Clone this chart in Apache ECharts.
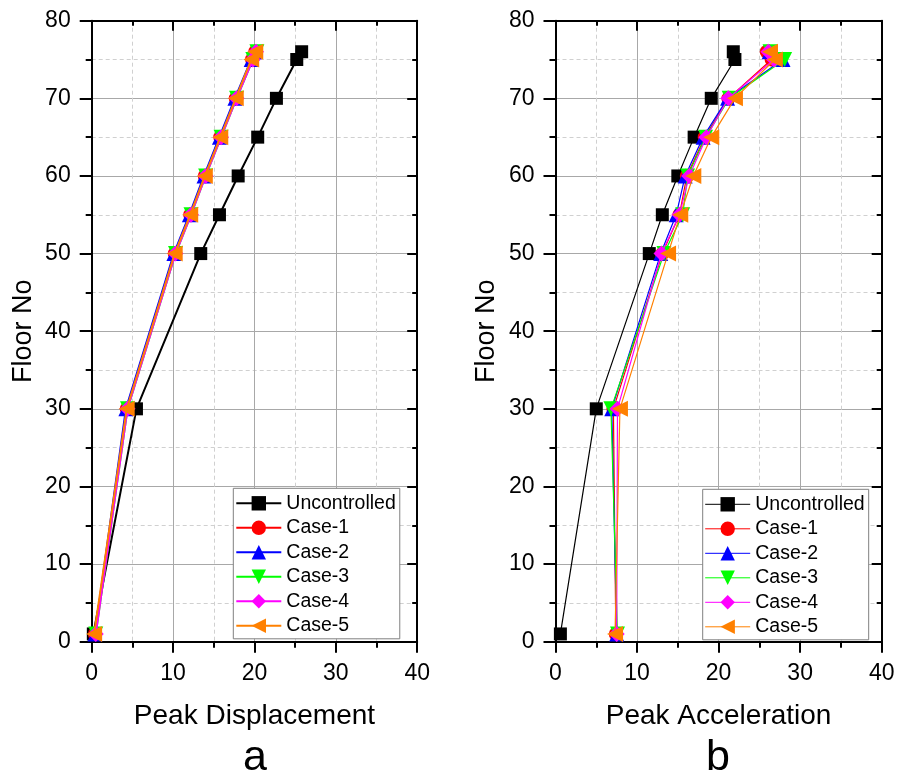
<!DOCTYPE html>
<html>
<head>
<meta charset="utf-8">
<script src="https://cdn.jsdelivr.net/npm/echarts@6/dist/echarts.min.js"></script>
<style>
  html, body { margin: 0; padding: 0; background: #fff; }
  #chart { width: 898px; height: 776px; }
</style>
</head>
<body>
<div id="chart"></div>
<script>
// floors where the response was measured
const floors = [1, 30, 50, 55, 60, 65, 70, 75, 76]
const seriesNames = ['Uncontrolled', 'Case-1', 'Case-2', 'Case-3', 'Case-4', 'Case-5']

// peak displacement (panel a)
const dispUncontrolled = [0.2, 5.5, 13.4, 15.7, 18.0, 20.4, 22.7, 25.2, 25.8]
const dispCase1 = [0.4, 4.3, 10.2, 12.1, 13.9, 15.8, 17.7, 19.7, 20.1]
const dispCase2 = [0.4, 4.2, 10.1, 12.0, 13.8, 15.7, 17.6, 19.6, 20.0]
const dispCase3 = [0.5, 4.4, 10.3, 12.2, 14.0, 15.9, 17.8, 19.8, 20.3]
const dispCase4 = [0.5, 4.4, 10.3, 12.2, 14.0, 15.9, 17.8, 19.8, 20.2]
const dispCase5 = [0.3, 4.3, 10.2, 12.1, 13.9, 15.8, 17.7, 19.6, 20.1]

// peak acceleration (panel b)
const accUncontrolled = [0.6, 5.0, 11.5, 13.1, 15.0, 17.0, 19.1, 22.0, 21.8]
const accCase1 = [7.4, 7.1, 13.1, 15.2, 16.1, 18.3, 21.2, 26.5, 25.9]
const accCase2 = [7.5, 6.9, 12.9, 14.8, 15.9, 18.1, 21.1, 27.9, 26.2]
const accCase3 = [7.6, 6.8, 13.3, 15.6, 16.2, 18.4, 21.3, 28.1, 26.3]
const accCase4 = [7.5, 7.6, 13.0, 15.2, 16.4, 18.5, 21.2, 26.8, 26.1]
const accCase5 = [7.3, 7.9, 13.8, 15.3, 16.9, 19.1, 22.0, 26.9, 26.3]

const xTicks = [0, 10, 20, 30, 40]
const yTicks = [0, 10, 20, 30, 40, 50, 60, 70, 80]

const FONT = 'Liberation Sans, Arial, sans-serif'

// 样式：颜色 / 符号
const styles = [
  { color: '#000000', symbol: 'rect', rotate: 0, size: 13 },
  { color: '#ff0000', symbol: 'circle', rotate: 0, size: 14 },
  { color: '#0000ff', symbol: 'triangle', rotate: 0, size: 15 },
  { color: '#00ff00', symbol: 'triangle', rotate: 180, size: 15 },
  { color: '#ff00ff', symbol: 'diamond', rotate: 0, size: 16 },
  { color: '#ff8000', symbol: 'triangle', rotate: 90, size: 16 }
]

const grids = [
  { left: 91.7, top: 20.7, width: 325.5, height: 621 },
  { left: 555.5, top: 20.7, width: 326.2, height: 621 }
]

const panels = [
  { xName: 'Peak Displacement', values: [dispUncontrolled, dispCase1, dispCase2, dispCase3, dispCase4, dispCase5], lineWidth: 2 },
  { xName: 'Peak Acceleration', values: [accUncontrolled, accCase1, accCase2, accCase3, accCase4, accCase5], lineWidth: 1.2 }
]

const axisLine = { show: true, onZero: false, lineStyle: { color: '#000', width: 2 } }

const xAxes = []
const yAxes = []
const series = []

panels.forEach((p, gi) => {
  // 底部 x 轴
  xAxes.push({
    type: 'value', gridIndex: gi, position: 'bottom',
    min: xTicks[0], max: xTicks[xTicks.length - 1], interval: 10,
    name: p.xName, nameLocation: 'middle', nameGap: 61,
    nameTextStyle: { fontFamily: FONT, fontSize: 28, color: '#000' },
    axisLine,
    axisTick: { show: true, inside: false, length: 11, lineStyle: { width: 2, color: '#000' } },
    minorTick: { show: true, splitNumber: 2, length: 6, lineStyle: { width: 2, color: '#000' } },
    axisLabel: { fontFamily: FONT, fontSize: 23, color: '#000', margin: 20 },
    splitLine: { show: true, lineStyle: { color: '#a8a8a8', width: 1 } },
    minorSplitLine: { show: true, lineStyle: { color: '#d0d0d0', width: 1, type: [4, 3] } }
  })
  // 顶部 x 轴（只画框和刻度）
  xAxes.push({
    type: 'value', gridIndex: gi, position: 'top',
    min: 0, max: 40, interval: 10,
    axisLine,
    axisTick: { show: true, inside: true, length: 10, lineStyle: { width: 2, color: '#000' } },
    minorTick: { show: true, splitNumber: 2, length: 5, lineStyle: { width: 2, color: '#000' } },
    axisLabel: { show: false },
    splitLine: { show: false }
  })
  // 左侧 y 轴
  yAxes.push({
    type: 'value', gridIndex: gi, position: 'left',
    min: yTicks[0], max: yTicks[yTicks.length - 1], interval: 10,
    name: 'Floor No', nameLocation: 'middle', nameGap: 55, nameRotate: 90,
    nameTextStyle: { fontFamily: FONT, fontSize: 27, color: '#000' },
    axisLine,
    axisTick: { show: true, inside: false, length: 12, lineStyle: { width: 2, color: '#000' } },
    minorTick: { show: true, splitNumber: 2, length: 6, lineStyle: { width: 2, color: '#000' } },
    axisLabel: { fontFamily: FONT, fontSize: 23, color: '#000', margin: 21 },
    splitLine: { show: true, lineStyle: { color: '#a8a8a8', width: 1 } },
    minorSplitLine: { show: true, lineStyle: { color: '#d0d0d0', width: 1, type: [4, 3] } }
  })
  // 右侧 y 轴（只画框和刻度）
  yAxes.push({
    type: 'value', gridIndex: gi, position: 'right',
    min: 0, max: 80, interval: 10,
    axisLine,
    axisTick: { show: true, inside: true, length: 10, lineStyle: { width: 2, color: '#000' } },
    minorTick: { show: true, splitNumber: 2, length: 5, lineStyle: { width: 2, color: '#000' } },
    axisLabel: { show: false },
    splitLine: { show: false }
  })

  p.values.forEach((vals, si) => {
    const s = styles[si]
    series.push({
      name: seriesNames[si],
      type: 'line',
      xAxisIndex: gi * 2,
      yAxisIndex: gi * 2,
      data: vals.map((v, k) => [v, floors[k]]),
      symbol: s.symbol,
      symbolRotate: s.rotate,
      symbolSize: s.size,
      showAllSymbol: true,
      color: s.color,
      lineStyle: { color: s.color, width: p.lineWidth },
      itemStyle: { color: s.color },
      emphasis: { disabled: true },
      animation: false,
      z: 2 + si
    })
  })
})

const makeLegend = (left, top) => ({
  orient: 'vertical',
  left, top,
  data: seriesNames,
  itemWidth: 45,
  itemHeight: 18,
  itemGap: 4.5,
  padding: [5, 4, 3, 2],
  borderColor: '#808080',
  borderWidth: 1,
  backgroundColor: '#fff',
  textStyle: { fontFamily: FONT, fontSize: 19.5, color: '#000', lineHeight: 19 },
  selectedMode: false
})

const legends = [makeLegend(233.3, 488.3), makeLegend(702.7, 489.3)]
legends[0].lineStyle = { width: 2 }
legends[1].lineStyle = { width: 1 }

const chart = echarts.init(document.getElementById('chart'), null, { renderer: 'canvas' })
chart.setOption({
  backgroundColor: '#fff',
  animation: false,
  grid: grids,
  xAxis: xAxes,
  yAxis: yAxes,
  legend: legends,
  series,
  graphic: [
    { type: 'text', left: 255 - 12, top: 737, style: { text: 'a', font: '43px ' + FONT, fill: '#000' } },
    { type: 'text', left: 718 - 12, top: 737, style: { text: 'b', font: '43px ' + FONT, fill: '#000' } }
  ]
})
</script>
</body>
</html>
